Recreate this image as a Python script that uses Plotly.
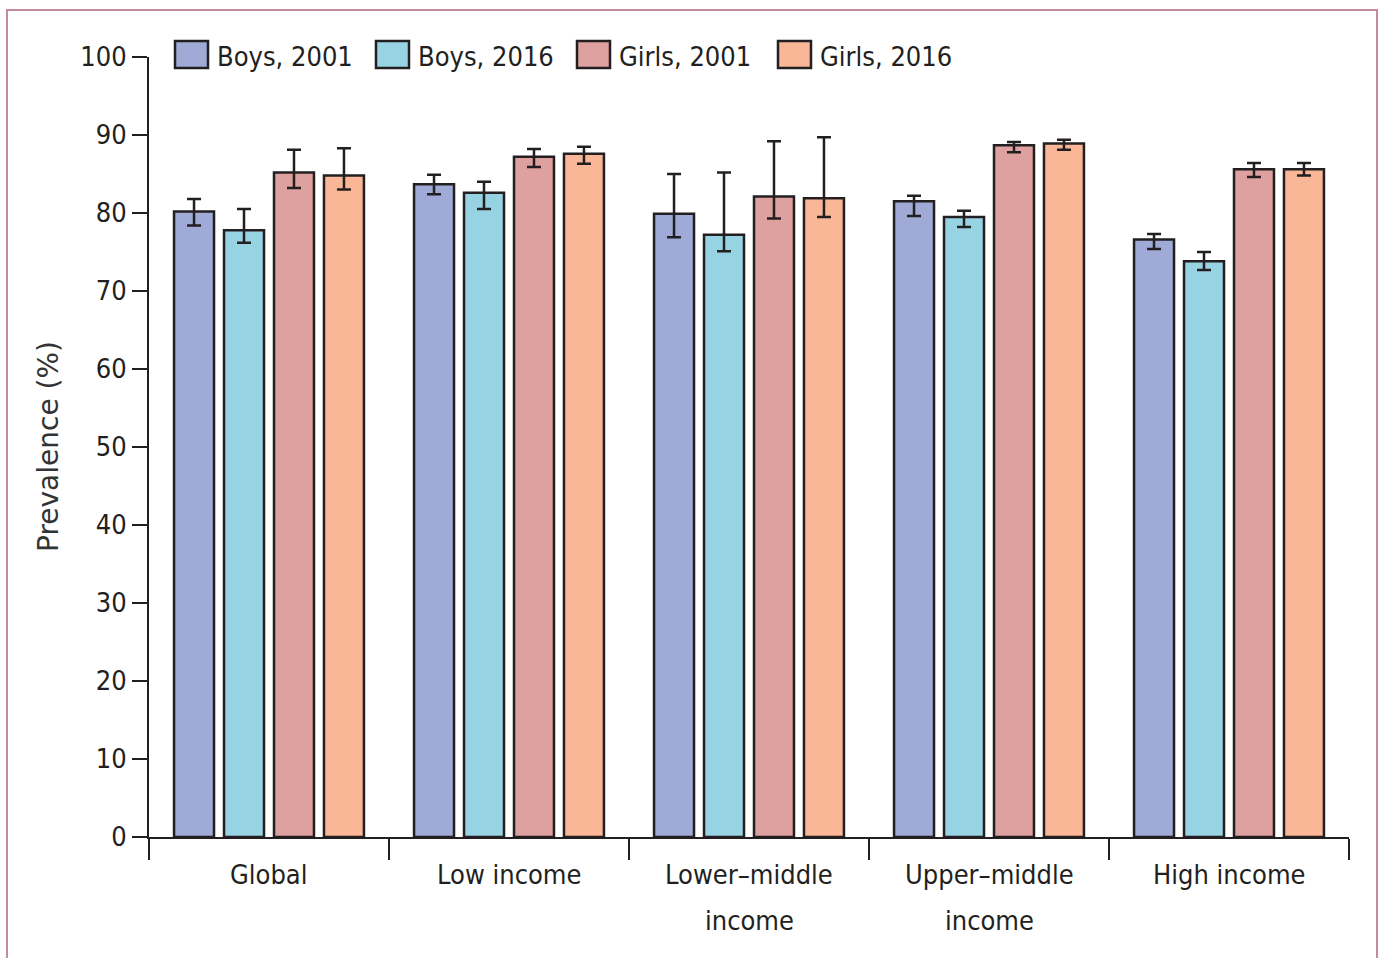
import plotly.graph_objects as go

# Income groups (x categories)
categories = ["Global", "Low income", "Lower–middle<br>income",
              "Upper–middle<br>income", "High income"]

# Series names and prevalence (%) with 95% uncertainty bounds
series_names = ["Boys, 2001", "Boys, 2016", "Girls, 2001", "Girls, 2016"]

boys_2001 = [80.2, 83.7, 79.9, 81.5, 76.6]
boys_2001_lo = [78.4, 82.4, 76.9, 79.6, 75.4]
boys_2001_hi = [81.8, 84.9, 85.0, 82.2, 77.3]

boys_2016 = [77.8, 82.6, 77.2, 79.5, 73.8]
boys_2016_lo = [76.2, 80.5, 75.1, 78.2, 72.7]
boys_2016_hi = [80.5, 84.0, 85.2, 80.3, 75.0]

girls_2001 = [85.2, 87.2, 82.1, 88.7, 85.6]
girls_2001_lo = [83.2, 85.9, 79.3, 87.8, 84.6]
girls_2001_hi = [88.1, 88.2, 89.2, 89.1, 86.4]

girls_2016 = [84.8, 87.6, 81.9, 88.9, 85.6]
girls_2016_lo = [83.0, 86.3, 79.5, 88.1, 84.8]
girls_2016_hi = [88.3, 88.5, 89.7, 89.4, 86.4]

y_ticks = [0, 10, 20, 30, 40, 50, 60, 70, 80, 90, 100]

colors = ["#9fabd6", "#98d3e3", "#dfa0a0", "#f9b797"]
ink = "#231f20"
label_font = ("Liberation Sans Narrow, Noto Sans Condensed, "
              "DejaVu Sans Condensed, Arial Narrow, sans-serif")
label_size = 26

values = [boys_2001, boys_2016, girls_2001, girls_2016]
lows = [boys_2001_lo, boys_2016_lo, girls_2001_lo, girls_2016_lo]
highs = [boys_2001_hi, boys_2016_hi, girls_2001_hi, girls_2016_hi]

W, H = 1383, 958
ml, mr, mt, mb = 149, 34, 57, 121
pw, ph = W - ml - mr, H - mt - mb


def px_x(x):
    return (x - ml) / pw


def px_y(y):
    return (H - mb - y) / ph


fig = go.Figure()
for name, vals, lo, hi, col in zip(series_names, values, lows, highs, colors):
    fig.add_trace(go.Bar(
        x=categories, y=vals, name=name,
        marker=dict(color=col, line=dict(color=ink, width=2.5)),
        error_y=dict(type="data", symmetric=False,
                     array=[h - v for h, v in zip(hi, vals)],
                     arrayminus=[v - l for v, l in zip(vals, lo)],
                     color=ink, thickness=2.5, width=7),
        showlegend=False,
    ))

shapes = []
annotations = []

# Legend row: swatches and labels across the top
for i, (name, col) in enumerate(zip(series_names, colors)):
    x0 = 175 + 201 * i
    shapes.append(dict(type="rect", xref="paper", yref="paper",
                       x0=px_x(x0), x1=px_x(x0 + 33),
                       y0=px_y(68), y1=px_y(41),
                       fillcolor=col, line=dict(color=ink, width=2.5)))
    annotations.append(dict(xref="paper", yref="paper",
                            x=px_x(x0 + 40), y=px_y(56),
                            xanchor="left", yanchor="middle",
                            text=name, showarrow=False,
                            font=dict(family=label_font, size=label_size + 1,
                                      color=ink)))

# Category labels under each group, one line at a time for wider leading
for cat in categories:
    for j, line in enumerate(cat.split("<br>")):
        annotations.append(dict(xref="x", yref="paper", x=cat,
                                y=px_y(874 + 46 * j),
                                xanchor="center", yanchor="middle",
                                text=line, showarrow=False,
                                font=dict(family=label_font, size=label_size + 1,
                                          color=ink)))

# Outer frame
shapes.append(dict(type="rect", xref="paper", yref="paper",
                   x0=px_x(7), x1=px_x(1377), y0=px_y(975), y1=px_y(10),
                   line=dict(color="#c58aa3", width=2), layer="below"))

# Y-axis title
annotations.append(dict(xref="paper", yref="paper", x=px_x(48), y=px_y(447),
                        text="Prevalence (%)", textangle=-90, showarrow=False,
                        xanchor="center", yanchor="middle",
                        font=dict(family="DejaVu Sans, sans-serif", size=28,
                                  color="#333333")))

fig.update_layout(
    width=W, height=H,
    margin=dict(l=ml, r=mr, t=mt, b=mb),
    paper_bgcolor="white", plot_bgcolor="white",
    barmode="group", bargap=0.167, bargroupgap=0.2,
    shapes=shapes, annotations=annotations,
    font=dict(family=label_font, size=label_size, color=ink),
)
fig.update_xaxes(
    type="category", tickson="boundaries", ticks="outside", ticklen=21,
    tickwidth=2, tickcolor=ink, showline=True, linecolor=ink, linewidth=2,
    showgrid=False, zeroline=False, showticklabels=False,
)
fig.update_yaxes(
    range=[0, 100], tickvals=y_ticks, ticks="outside", ticklen=15,
    tickwidth=2, tickcolor=ink, showline=True, linecolor=ink, linewidth=2,
    showgrid=False, zeroline=False,
    tickfont=dict(family=label_font, size=label_size + 1, color=ink),
)

fig.write_html("out.html")
